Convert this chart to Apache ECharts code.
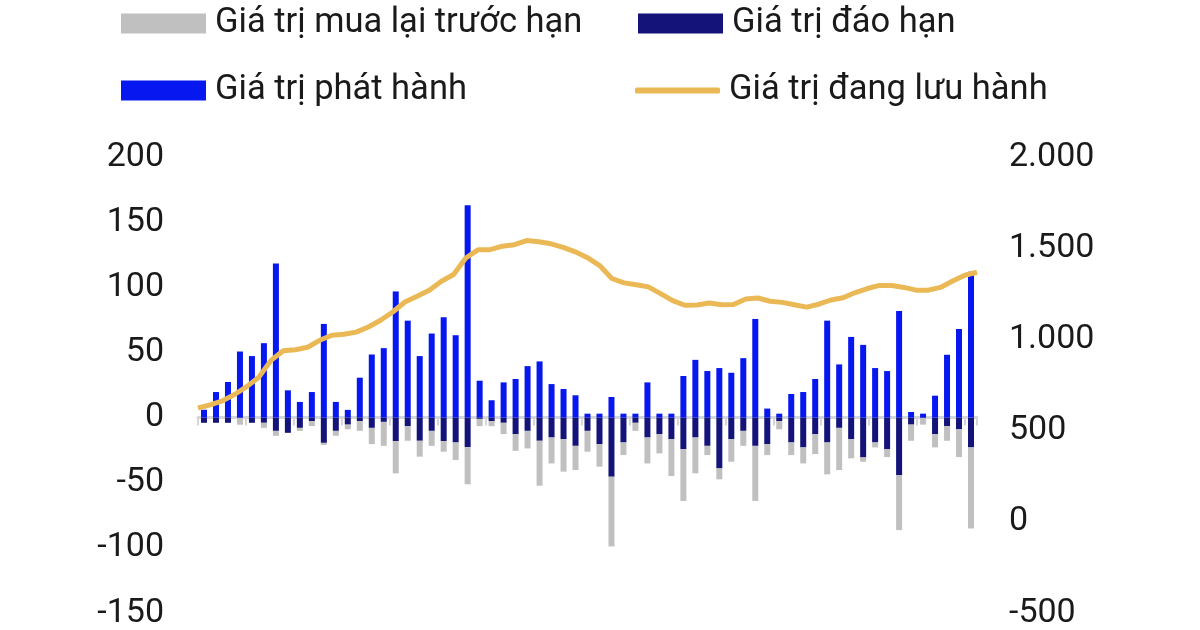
<!DOCTYPE html>
<html>
<head>
<meta charset="utf-8">
<script src="https://cdn.jsdelivr.net/npm/echarts@6/dist/echarts.min.js"></script>
<style>
  html, body { margin: 0; padding: 0; background: #fff; }
  #chart { width: 1200px; height: 630px; }
</style>
</head>
<body>
<div id="chart"></div>
<script>
// weekly bars: issued (+), matured (-), early buyback (-); outstanding on right axis
const issued = [6, 19.6, 27.3, 50.7, 47.2, 57.1, 118.3, 20.9, 12, 19.6,
  71.9, 12, 5.9, 30.6, 48.4, 53.3, 96.8, 74.4, 47.2, 64.5,
  77, 63.2, 163, 28.3, 13.3, 27, 29.6, 39.5, 43.1, 25.7,
  21.9, 17.1, 3, 3, 15.8, 3, 3, 27, 3, 3,
  31.9, 44.3, 35.7, 38, 34.4, 45.6, 75.7, 6.9, 3, 18.1,
  19.6, 29.6, 74.4, 40.8, 61.9, 55.8, 38, 35.7, 81.8, 4.3,
  3, 16.8, 48.2, 68, 111.9];
const matured = [-4, -4, -4, -0.5, -4, -4, -10.2, -11.7, -7.9, -2.8,
  -19.4, -10.2, -5.4, -2.8, -7.9, -3.3, -18.1, -6.6, -17.8, -10.2,
  -18.1, -19.1, -22.7, -1, -2.8, -4, -12.7, -10.2, -17.8, -15.3,
  -16.6, -21.7, -10.2, -20.4, -45.4, -19.1, -4, -15.3, -12.7, -16.6,
  -24.2, -15.3, -21.7, -39, -16.6, -10.2, -21.7, -20.4, -2.8, -19.1,
  -22.9, -12.7, -19.1, -7.9, -16.6, -30.6, -19.1, -24.2, -44.1, -5.4,
  -0.5, -12.7, -6.6, -9, -22.9];
const buyback = [0, 0, 0, -5, 0, -3.9, -3.8, 0, -2.3, -3.8,
  -1.6, -3.8, -3.6, -7.4, -12.5, -18.4, -24.7, -11.2, -12.2, -11.5,
  -8.1, -13.5, -28.5, -5.6, -3.8, -8.7, -12.8, -13.5, -34.5, -19.9,
  -24.9, -18.6, -16, -17.3, -53.5, -9.7, -6.2, -19.9, -14.8, -28.3,
  -39.8, -27.5, -7.1, -8.4, -17.3, -11.5, -42.3, -8.4, -6.2, -9.7,
  -12.3, -15.3, -24.5, -32.4, -14.7, -3.3, -3.8, -6.1, -42.3, -12.4,
  -4.9, -10.2, -11.2, -21.3, -62.2];
const outstanding = [624, 641, 663, 698, 741, 793, 885, 938, 943, 957,
  995, 1023, 1028, 1040, 1068, 1105, 1150, 1205, 1237, 1269,
  1319, 1356, 1446, 1491, 1492, 1511, 1519, 1542, 1535, 1524,
  1505, 1480, 1448, 1405, 1334, 1310, 1300, 1288, 1251, 1213,
  1187, 1189, 1200, 1190, 1191, 1221, 1227, 1209, 1203, 1190,
  1177, 1193, 1216, 1228, 1257, 1279, 1296, 1296, 1285, 1270,
  1270, 1285, 1320, 1352, 1368];
const weeks = issued.map((v, i) => 'W' + (i + 1));

const names = ['Giá trị mua lại trước hạn', 'Giá trị đáo hạn', 'Giá trị phát hành', 'Giá trị đang lưu hành'];
const colors = ['#c0c0c0', '#13137a', '#0717f0', '#eab955'];

const chart = echarts.init(document.getElementById('chart'));

const legendText = {
  fontFamily: 'Roboto',
  fontSize: 34.5,
  color: '#1a1a1a',
  padding: [0, 0, 0, 4]
};
function mkLegend(name, left, top, h, icon) {
  return {
    data: [name],
    left: left,
    top: top,
    padding: 0,
    itemWidth: 85,
    itemHeight: h,
    icon: icon,
    selectedMode: false,
    textStyle: legendText
  };
}

const axisText = { fontFamily: 'Roboto', fontSize: 34, color: '#1a1a1a' };

const option = {
  animation: false,
  legend: [
    mkLegend(names[0], 121, 6, 20, 'rect'),
    mkLegend(names[1], 638, 6, 20, 'rect'),
    mkLegend(names[2], 121, 73, 20, 'rect'),
    mkLegend(names[3], 635, 73, 6, 'roundRect')
  ],
  grid: { left: 198, right: 223, top: 157, bottom: 15 },
  xAxis: [{
    type: 'category',
    data: weeks,
    boundaryGap: true,
    axisLine: { onZero: true, onZeroAxisIndex: 0, lineStyle: { color: '#d6d6d6', width: 3 } },
    axisTick: { show: true, interval: 3, length: 8, lineStyle: { color: '#d6d6d6', width: 2 } },
    axisLabel: { show: false }
  }, {
    type: 'category',
    data: weeks,
    boundaryGap: false,
    show: false
  }],
  yAxis: [{
    type: 'value',
    min: -150, max: 200, interval: 50,
    axisLine: { show: false },
    axisTick: { show: false },
    splitLine: { show: false },
    axisLabel: Object.assign({ margin: 34 }, axisText)
  }, {
    type: 'value',
    min: -500, max: 2000, interval: 500,
    axisLine: { show: false },
    axisTick: { show: false },
    splitLine: { show: false },
    axisLabel: Object.assign({
      margin: 32,
      formatter: v => String(v).replace(/\B(?=(\d{3})+(?!\d))/g, '.')
    }, axisText)
  }],
  series: [{
    name: names[1],
    type: 'bar',
    stack: 'flow',
    data: matured,
    barWidth: 6,
    itemStyle: { color: colors[1] }
  }, {
    name: names[0],
    type: 'bar',
    stack: 'flow',
    data: buyback,
    barWidth: 6,
    itemStyle: { color: colors[0] }
  }, {
    name: names[2],
    type: 'bar',
    stack: 'flow',
    data: issued,
    barWidth: 6,
    itemStyle: { color: colors[2] }
  }, {
    name: names[3],
    type: 'line',
    xAxisIndex: 1,
    yAxisIndex: 1,
    data: outstanding,
    showSymbol: false,
    symbol: 'none',
    color: colors[3],
    lineStyle: { color: colors[3], width: 5 },
    z: 5
  }]
};
chart.setOption(option);
</script>
</body>
</html>
